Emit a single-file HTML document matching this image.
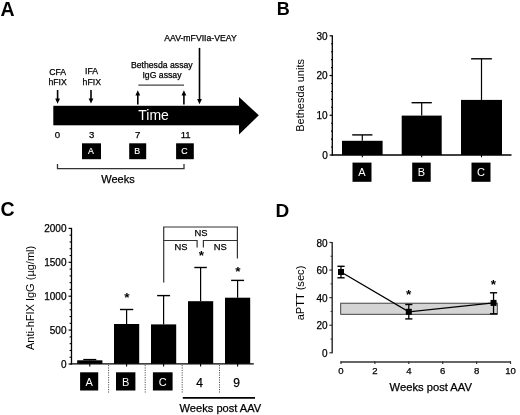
<!DOCTYPE html>
<html><head><meta charset="utf-8"><style>
html,body{margin:0;padding:0;background:#fff;width:520px;height:415px;overflow:hidden}
svg{display:block;will-change:transform}
text{font-family:"Liberation Sans",sans-serif}
</style></head><body>
<svg width="520" height="415" viewBox="0 0 520 415">
<rect width="520" height="415" fill="#fff"/>
<text x="0.6" y="15.6" font-size="19.5" text-anchor="start" font-weight="bold" fill="#000" >A</text>
<rect x="53.3" y="105.8" width="186.20" height="19.50" fill="#000" />
<polygon points="239,97 258.8,115.3 239,134.6" fill="#000"/>
<text x="138.3" y="119.5" font-size="14" text-anchor="start" font-weight="normal" fill="#fff" >Time</text>
<text x="57.6" y="74.5" font-size="8.7" text-anchor="middle" font-weight="normal" fill="#000" stroke="#000" stroke-width="0.25" >CFA</text>
<text x="57.6" y="84.6" font-size="8.7" text-anchor="middle" font-weight="normal" fill="#000" stroke="#000" stroke-width="0.25" >hFIX</text>
<text x="91.5" y="74.3" font-size="8.7" text-anchor="middle" font-weight="normal" fill="#000" stroke="#000" stroke-width="0.25" >IFA</text>
<text x="91.8" y="84.7" font-size="8.7" text-anchor="middle" font-weight="normal" fill="#000" stroke="#000" stroke-width="0.25" >hFIX</text>
<line x1="57.6" y1="90" x2="57.6" y2="100.8" stroke="#000" stroke-width="1.6"/><polygon points="55.2,98.6 60.0,98.6 57.6,103.8" fill="#000"/>
<line x1="91.0" y1="90" x2="91.0" y2="100.6" stroke="#000" stroke-width="1.6"/><polygon points="88.6,98.39999999999999 93.4,98.39999999999999 91.0,103.6" fill="#000"/>
<line x1="137.8" y1="93.2" x2="137.8" y2="104.5" stroke="#000" stroke-width="1.6"/><polygon points="135.4,95.4 140.20000000000002,95.4 137.8,90.2" fill="#000"/>
<line x1="183.9" y1="93.2" x2="183.9" y2="104.5" stroke="#000" stroke-width="1.6"/><polygon points="181.5,95.4 186.3,95.4 183.9,90.2" fill="#000"/>
<line x1="138.3" y1="85.2" x2="184" y2="85.2" stroke="#444" stroke-width="1.2"/>
<text x="161.8" y="67.5" font-size="8.7" text-anchor="middle" font-weight="normal" fill="#000" stroke="#000" stroke-width="0.25" >Bethesda assay</text>
<text x="162" y="77.6" font-size="8.7" text-anchor="middle" font-weight="normal" fill="#000" stroke="#000" stroke-width="0.25" >IgG assay</text>
<text x="200.5" y="41.2" font-size="8.7" text-anchor="middle" font-weight="normal" fill="#000" stroke="#000" stroke-width="0.25" >AAV-mFVIIa-VEAY</text>
<line x1="199.5" y1="47.9" x2="199.5" y2="101.2" stroke="#000" stroke-width="1.6"/><polygon points="197.1,99.0 201.9,99.0 199.5,104.2" fill="#000"/>
<text x="57.45" y="138.2" font-size="9.6" text-anchor="middle" font-weight="normal" fill="#000" stroke="#000" stroke-width="0.25" >0</text>
<text x="91.7" y="138.2" font-size="9.6" text-anchor="middle" font-weight="normal" fill="#000" stroke="#000" stroke-width="0.25" >3</text>
<text x="137.6" y="138.2" font-size="9.6" text-anchor="middle" font-weight="normal" fill="#000" stroke="#000" stroke-width="0.25" >7</text>
<text x="185.7" y="138.2" font-size="9.6" text-anchor="middle" font-weight="normal" fill="#000" stroke="#000" stroke-width="0.25" >11</text>
<rect x="82" y="143.3" width="19.00" height="15.90" fill="#000" />
<text x="91.0" y="154" font-size="8.8" text-anchor="middle" font-weight="normal" fill="#fff" stroke="#fff" stroke-width="0.15">A</text>
<rect x="129.2" y="143.3" width="17.00" height="15.90" fill="#000" />
<text x="137.2" y="154" font-size="8.8" text-anchor="middle" font-weight="normal" fill="#fff" stroke="#fff" stroke-width="0.15">B</text>
<rect x="176.1" y="143.3" width="17.70" height="15.90" fill="#000" />
<text x="184.45" y="154" font-size="8.8" text-anchor="middle" font-weight="normal" fill="#fff" stroke="#fff" stroke-width="0.15">C</text>
<path d="M57.5,164 V168.7 H184 V164" fill="none" stroke="#333" stroke-width="1.3"/>
<text x="101.3" y="182.7" font-size="11" text-anchor="start" font-weight="normal" fill="#000" stroke="#000" stroke-width="0.25" >Weeks</text>
<text x="276.7" y="15.4" font-size="18" text-anchor="start" font-weight="bold" fill="#000" >B</text>
<line x1="332.3" y1="35.31" x2="332.3" y2="155.5" stroke="#000" stroke-width="1.3"/>
<line x1="329.6" y1="155.0" x2="332.3" y2="155.0" stroke="#000" stroke-width="1.2"/>
<text x="327.7" y="158.7" font-size="10" text-anchor="end" font-weight="normal" fill="#000" stroke="#000" stroke-width="0.25" >0</text>
<line x1="331.0" y1="147.054" x2="332.3" y2="147.054" stroke="#000" stroke-width="1.1"/>
<line x1="331.0" y1="139.108" x2="332.3" y2="139.108" stroke="#000" stroke-width="1.1"/>
<line x1="331.0" y1="131.162" x2="332.3" y2="131.162" stroke="#000" stroke-width="1.1"/>
<line x1="331.0" y1="123.21600000000001" x2="332.3" y2="123.21600000000001" stroke="#000" stroke-width="1.1"/>
<line x1="329.6" y1="115.27000000000001" x2="332.3" y2="115.27000000000001" stroke="#000" stroke-width="1.2"/>
<text x="327.7" y="118.97000000000001" font-size="10" text-anchor="end" font-weight="normal" fill="#000" stroke="#000" stroke-width="0.25" >10</text>
<line x1="331.0" y1="107.324" x2="332.3" y2="107.324" stroke="#000" stroke-width="1.1"/>
<line x1="331.0" y1="99.378" x2="332.3" y2="99.378" stroke="#000" stroke-width="1.1"/>
<line x1="331.0" y1="91.432" x2="332.3" y2="91.432" stroke="#000" stroke-width="1.1"/>
<line x1="331.0" y1="83.486" x2="332.3" y2="83.486" stroke="#000" stroke-width="1.1"/>
<line x1="329.6" y1="75.54" x2="332.3" y2="75.54" stroke="#000" stroke-width="1.2"/>
<text x="327.7" y="79.24000000000001" font-size="10" text-anchor="end" font-weight="normal" fill="#000" stroke="#000" stroke-width="0.25" >20</text>
<line x1="331.0" y1="67.59400000000001" x2="332.3" y2="67.59400000000001" stroke="#000" stroke-width="1.1"/>
<line x1="331.0" y1="59.647999999999996" x2="332.3" y2="59.647999999999996" stroke="#000" stroke-width="1.1"/>
<line x1="331.0" y1="51.702" x2="332.3" y2="51.702" stroke="#000" stroke-width="1.1"/>
<line x1="331.0" y1="43.756" x2="332.3" y2="43.756" stroke="#000" stroke-width="1.1"/>
<line x1="329.6" y1="35.81" x2="332.3" y2="35.81" stroke="#000" stroke-width="1.2"/>
<text x="327.7" y="39.510000000000005" font-size="10" text-anchor="end" font-weight="normal" fill="#000" stroke="#000" stroke-width="0.25" >30</text>
<line x1="331.6" y1="155" x2="511.5" y2="155" stroke="#000" stroke-width="1.3"/>
<rect x="342" y="140.8" width="40.60" height="14.20" fill="#000" />
<line x1="362.3" y1="134.9" x2="362.3" y2="140.8" stroke="#000" stroke-width="1.2"/>
<line x1="352.2" y1="134.9" x2="372.40000000000003" y2="134.9" stroke="#000" stroke-width="1.4"/>
<line x1="362.3" y1="155" x2="362.3" y2="157.3" stroke="#000" stroke-width="1.1"/>
<rect x="401.7" y="115.6" width="40.00" height="39.40" fill="#000" />
<line x1="421.7" y1="102.7" x2="421.7" y2="115.6" stroke="#000" stroke-width="1.2"/>
<line x1="411.59999999999997" y1="102.7" x2="431.8" y2="102.7" stroke="#000" stroke-width="1.4"/>
<line x1="421.7" y1="155" x2="421.7" y2="157.3" stroke="#000" stroke-width="1.1"/>
<rect x="461" y="99.9" width="41.00" height="55.10" fill="#000" />
<line x1="481.5" y1="58.8" x2="481.5" y2="99.9" stroke="#000" stroke-width="1.2"/>
<line x1="471.1" y1="58.8" x2="491.9" y2="58.8" stroke="#000" stroke-width="1.4"/>
<line x1="481.5" y1="155" x2="481.5" y2="157.3" stroke="#000" stroke-width="1.1"/>
<rect x="352.5" y="162.6" width="19.00" height="19.20" fill="#000" />
<text x="362.0" y="176.2" font-size="11" text-anchor="middle" font-weight="normal" fill="#fff" >A</text>
<rect x="412.2" y="162.6" width="18.50" height="19.20" fill="#000" />
<text x="421.45" y="176.2" font-size="11" text-anchor="middle" font-weight="normal" fill="#fff" >B</text>
<rect x="471.5" y="162.6" width="19.00" height="19.20" fill="#000" />
<text x="481.0" y="176.2" font-size="11" text-anchor="middle" font-weight="normal" fill="#fff" >C</text>
<text x="0" y="0" font-size="11" text-anchor="middle" font-weight="normal" fill="#000" transform="translate(304.0,95.4) rotate(-90)">Bethesda units</text>
<text x="0.4" y="215.6" font-size="19.5" text-anchor="start" font-weight="bold" fill="#000" >C</text>
<line x1="71.5" y1="227.9" x2="71.5" y2="364.5" stroke="#000" stroke-width="1.3"/>
<line x1="68.6" y1="364.0" x2="71.5" y2="364.0" stroke="#000" stroke-width="1.2"/>
<text x="66.5" y="367.7" font-size="10" text-anchor="end" font-weight="normal" fill="#000" stroke="#000" stroke-width="0.25" >0</text>
<line x1="69.6" y1="357.22" x2="71.5" y2="357.22" stroke="#000" stroke-width="1.1"/>
<line x1="69.6" y1="350.44" x2="71.5" y2="350.44" stroke="#000" stroke-width="1.1"/>
<line x1="69.6" y1="343.66" x2="71.5" y2="343.66" stroke="#000" stroke-width="1.1"/>
<line x1="69.6" y1="336.88" x2="71.5" y2="336.88" stroke="#000" stroke-width="1.1"/>
<line x1="68.6" y1="330.1" x2="71.5" y2="330.1" stroke="#000" stroke-width="1.2"/>
<text x="66.5" y="333.8" font-size="10" text-anchor="end" font-weight="normal" fill="#000" stroke="#000" stroke-width="0.25" >500</text>
<line x1="69.6" y1="323.32" x2="71.5" y2="323.32" stroke="#000" stroke-width="1.1"/>
<line x1="69.6" y1="316.54" x2="71.5" y2="316.54" stroke="#000" stroke-width="1.1"/>
<line x1="69.6" y1="309.76" x2="71.5" y2="309.76" stroke="#000" stroke-width="1.1"/>
<line x1="69.6" y1="302.98" x2="71.5" y2="302.98" stroke="#000" stroke-width="1.1"/>
<line x1="68.6" y1="296.2" x2="71.5" y2="296.2" stroke="#000" stroke-width="1.2"/>
<text x="66.5" y="299.9" font-size="10" text-anchor="end" font-weight="normal" fill="#000" stroke="#000" stroke-width="0.25" >1000</text>
<line x1="69.6" y1="289.42" x2="71.5" y2="289.42" stroke="#000" stroke-width="1.1"/>
<line x1="69.6" y1="282.64" x2="71.5" y2="282.64" stroke="#000" stroke-width="1.1"/>
<line x1="69.6" y1="275.86" x2="71.5" y2="275.86" stroke="#000" stroke-width="1.1"/>
<line x1="69.6" y1="269.08" x2="71.5" y2="269.08" stroke="#000" stroke-width="1.1"/>
<line x1="68.6" y1="262.3" x2="71.5" y2="262.3" stroke="#000" stroke-width="1.2"/>
<text x="66.5" y="266.0" font-size="10" text-anchor="end" font-weight="normal" fill="#000" stroke="#000" stroke-width="0.25" >1500</text>
<line x1="69.6" y1="255.51999999999998" x2="71.5" y2="255.51999999999998" stroke="#000" stroke-width="1.1"/>
<line x1="69.6" y1="248.74" x2="71.5" y2="248.74" stroke="#000" stroke-width="1.1"/>
<line x1="69.6" y1="241.96" x2="71.5" y2="241.96" stroke="#000" stroke-width="1.1"/>
<line x1="69.6" y1="235.18" x2="71.5" y2="235.18" stroke="#000" stroke-width="1.1"/>
<line x1="68.6" y1="228.4" x2="71.5" y2="228.4" stroke="#000" stroke-width="1.2"/>
<text x="66.5" y="232.1" font-size="10" text-anchor="end" font-weight="normal" fill="#000" stroke="#000" stroke-width="0.25" >2000</text>
<line x1="70.5" y1="363.8" x2="253.8" y2="363.8" stroke="#000" stroke-width="1.3"/>
<rect x="77.2" y="360.3" width="25.20" height="3.50" fill="#000" />
<line x1="89.8" y1="359.6" x2="89.8" y2="360.3" stroke="#000" stroke-width="1.2"/>
<line x1="83.3" y1="359.6" x2="96.3" y2="359.6" stroke="#000" stroke-width="1.4"/>
<line x1="89.8" y1="363.8" x2="89.8" y2="366.5" stroke="#000" stroke-width="1.1"/>
<rect x="114.0" y="324" width="25.20" height="39.80" fill="#000" />
<line x1="126.6" y1="309.5" x2="126.6" y2="324" stroke="#000" stroke-width="1.2"/>
<line x1="119.94999999999999" y1="309.5" x2="133.25" y2="309.5" stroke="#000" stroke-width="1.4"/>
<line x1="126.6" y1="363.8" x2="126.6" y2="366.5" stroke="#000" stroke-width="1.1"/>
<rect x="151.0" y="324.4" width="25.20" height="39.40" fill="#000" />
<line x1="163.6" y1="295.6" x2="163.6" y2="324.4" stroke="#000" stroke-width="1.2"/>
<line x1="157.15" y1="295.6" x2="170.04999999999998" y2="295.6" stroke="#000" stroke-width="1.4"/>
<line x1="163.6" y1="363.8" x2="163.6" y2="366.5" stroke="#000" stroke-width="1.1"/>
<rect x="188.0" y="301.2" width="25.20" height="62.60" fill="#000" />
<line x1="200.6" y1="267.5" x2="200.6" y2="301.2" stroke="#000" stroke-width="1.2"/>
<line x1="194.35" y1="267.5" x2="206.85" y2="267.5" stroke="#000" stroke-width="1.4"/>
<line x1="200.6" y1="363.8" x2="200.6" y2="366.5" stroke="#000" stroke-width="1.1"/>
<rect x="225.0" y="297.7" width="25.20" height="66.10" fill="#000" />
<line x1="237.6" y1="280.4" x2="237.6" y2="297.7" stroke="#000" stroke-width="1.2"/>
<line x1="231.1" y1="280.4" x2="244.1" y2="280.4" stroke="#000" stroke-width="1.4"/>
<line x1="237.6" y1="363.8" x2="237.6" y2="366.5" stroke="#000" stroke-width="1.1"/>
<text x="126.9" y="302.28499999999997" font-size="13.5" text-anchor="middle" font-weight="bold" fill="#000" >*</text>
<text x="201.3" y="260.08500000000004" font-size="13.5" text-anchor="middle" font-weight="bold" fill="#000" >*</text>
<text x="238" y="275.585" font-size="13.5" text-anchor="middle" font-weight="bold" fill="#000" >*</text>
<path d="M163.7,282.5 V227 H237.4 V258.6" fill="none" stroke="#333" stroke-width="1.2"/>
<path d="M163.7,240.5 H197.1 V247.5" fill="none" stroke="#333" stroke-width="1.2"/>
<path d="M203.4,247.5 V240.5 H237.4" fill="none" stroke="#333" stroke-width="1.2"/>
<text x="201" y="235.8" font-size="9.4" text-anchor="middle" font-weight="normal" fill="#000" stroke="#000" stroke-width="0.25" >NS</text>
<text x="180.9" y="250.2" font-size="9.4" text-anchor="middle" font-weight="normal" fill="#000" stroke="#000" stroke-width="0.25" >NS</text>
<text x="220.3" y="250.4" font-size="9.4" text-anchor="middle" font-weight="normal" fill="#000" stroke="#000" stroke-width="0.25" >NS</text>
<line x1="108.6" y1="365" x2="108.6" y2="393.5" stroke="#444" stroke-width="0.9" stroke-dasharray="1.2,1.2"/>
<line x1="145.2" y1="365" x2="145.2" y2="393.5" stroke="#444" stroke-width="0.9" stroke-dasharray="1.2,1.2"/>
<line x1="182.2" y1="365" x2="182.2" y2="393.5" stroke="#444" stroke-width="0.9" stroke-dasharray="1.2,1.2"/>
<line x1="219.5" y1="365" x2="219.5" y2="393.5" stroke="#444" stroke-width="0.9" stroke-dasharray="1.2,1.2"/>
<rect x="80.1" y="372.3" width="18.10" height="18.20" fill="#000" />
<text x="89.15" y="385.6" font-size="11" text-anchor="middle" font-weight="normal" fill="#fff" >A</text>
<rect x="116" y="372.3" width="19.40" height="18.20" fill="#000" />
<text x="125.7" y="385.6" font-size="11" text-anchor="middle" font-weight="normal" fill="#fff" >B</text>
<rect x="152.9" y="372.3" width="19.70" height="18.20" fill="#000" />
<text x="162.75" y="385.6" font-size="11" text-anchor="middle" font-weight="normal" fill="#fff" >C</text>
<text x="199.5" y="387.2" font-size="12" text-anchor="middle" font-weight="normal" fill="#000" stroke="#000" stroke-width="0.25" >4</text>
<text x="236.6" y="387.2" font-size="12" text-anchor="middle" font-weight="normal" fill="#000" stroke="#000" stroke-width="0.25" >9</text>
<line x1="182.8" y1="397.9" x2="255" y2="397.9" stroke="#000" stroke-width="1.8"/>
<text x="179.6" y="411.7" font-size="11.1" text-anchor="start" font-weight="normal" fill="#000" stroke="#000" stroke-width="0.25" >Weeks post AAV</text>
<text x="0" y="0" font-size="11" text-anchor="middle" font-weight="normal" fill="#000" transform="translate(33.6,297.9) rotate(-90)">Anti-hFIX IgG (µg/ml)</text>
<text x="275.5" y="216.7" font-size="19" text-anchor="start" font-weight="bold" fill="#000" >D</text>
<line x1="332.2" y1="241.98000000000002" x2="332.2" y2="353.3" stroke="#333" stroke-width="1.5"/>
<line x1="329.4" y1="352.8" x2="332.2" y2="352.8" stroke="#333" stroke-width="1.2"/>
<text x="327.5" y="357.0" font-size="10" text-anchor="end" font-weight="normal" fill="#000" stroke="#000" stroke-width="0.25" >0</text>
<line x1="330.6" y1="339.01" x2="332.2" y2="339.01" stroke="#333" stroke-width="1.1"/>
<line x1="329.4" y1="325.22" x2="332.2" y2="325.22" stroke="#333" stroke-width="1.2"/>
<text x="327.5" y="329.42" font-size="10" text-anchor="end" font-weight="normal" fill="#000" stroke="#000" stroke-width="0.25" >20</text>
<line x1="330.6" y1="311.43" x2="332.2" y2="311.43" stroke="#333" stroke-width="1.1"/>
<line x1="329.4" y1="297.64" x2="332.2" y2="297.64" stroke="#333" stroke-width="1.2"/>
<text x="327.5" y="301.84" font-size="10" text-anchor="end" font-weight="normal" fill="#000" stroke="#000" stroke-width="0.25" >40</text>
<line x1="330.6" y1="283.85" x2="332.2" y2="283.85" stroke="#333" stroke-width="1.1"/>
<line x1="329.4" y1="270.06" x2="332.2" y2="270.06" stroke="#333" stroke-width="1.2"/>
<text x="327.5" y="274.26" font-size="10" text-anchor="end" font-weight="normal" fill="#000" stroke="#000" stroke-width="0.25" >60</text>
<line x1="330.6" y1="256.27" x2="332.2" y2="256.27" stroke="#333" stroke-width="1.1"/>
<line x1="329.4" y1="242.48000000000002" x2="332.2" y2="242.48000000000002" stroke="#333" stroke-width="1.2"/>
<text x="327.5" y="246.68" font-size="10" text-anchor="end" font-weight="normal" fill="#000" stroke="#000" stroke-width="0.25" >80</text>
<line x1="340.5" y1="361.9" x2="511" y2="361.9" stroke="#333" stroke-width="1.5"/>
<line x1="341.0" y1="361.3" x2="341.0" y2="364" stroke="#333" stroke-width="1.2"/>
<text x="341.0" y="374.3" font-size="9.6" text-anchor="middle" font-weight="normal" fill="#000" stroke="#000" stroke-width="0.25" >0</text>
<line x1="374.9" y1="361.3" x2="374.9" y2="364" stroke="#333" stroke-width="1.2"/>
<text x="374.9" y="374.3" font-size="9.6" text-anchor="middle" font-weight="normal" fill="#000" stroke="#000" stroke-width="0.25" >2</text>
<line x1="408.8" y1="361.3" x2="408.8" y2="364" stroke="#333" stroke-width="1.2"/>
<text x="408.8" y="374.3" font-size="9.6" text-anchor="middle" font-weight="normal" fill="#000" stroke="#000" stroke-width="0.25" >4</text>
<line x1="442.7" y1="361.3" x2="442.7" y2="364" stroke="#333" stroke-width="1.2"/>
<text x="442.7" y="374.3" font-size="9.6" text-anchor="middle" font-weight="normal" fill="#000" stroke="#000" stroke-width="0.25" >6</text>
<line x1="476.6" y1="361.3" x2="476.6" y2="364" stroke="#333" stroke-width="1.2"/>
<text x="476.6" y="374.3" font-size="9.6" text-anchor="middle" font-weight="normal" fill="#000" stroke="#000" stroke-width="0.25" >8</text>
<line x1="510.5" y1="361.3" x2="510.5" y2="364" stroke="#333" stroke-width="1.2"/>
<text x="510.5" y="374.3" font-size="9.6" text-anchor="middle" font-weight="normal" fill="#000" stroke="#000" stroke-width="0.25" >10</text>
<text x="389.6" y="391.3" font-size="11.2" text-anchor="start" font-weight="normal" fill="#000" stroke="#000" stroke-width="0.25" >Weeks post AAV</text>
<text x="0" y="0" font-size="11.1" text-anchor="middle" font-weight="normal" fill="#000" transform="translate(303.8,293) rotate(-90)">aPTT (sec)</text>
<rect x="340.7" y="303.2" width="156.6" height="11.1" fill="#d4d4d4" stroke="#333" stroke-width="0.9"/>
<polyline points="341.0,272 408.8,311.8 493.54999999999995,302.9" fill="none" stroke="#000" stroke-width="1.3"/>
<line x1="341.0" y1="266.3" x2="341.0" y2="277.8" stroke="#000" stroke-width="1.3"/>
<line x1="337.4" y1="266.3" x2="344.6" y2="266.3" stroke="#000" stroke-width="1.4"/>
<line x1="337.4" y1="277.8" x2="344.6" y2="277.8" stroke="#000" stroke-width="1.4"/>
<rect x="338.0" y="269" width="6.00" height="6.00" fill="#000" />
<line x1="408.8" y1="304.5" x2="408.8" y2="318.9" stroke="#000" stroke-width="1.3"/>
<line x1="405.2" y1="304.5" x2="412.40000000000003" y2="304.5" stroke="#000" stroke-width="1.4"/>
<line x1="405.2" y1="318.9" x2="412.40000000000003" y2="318.9" stroke="#000" stroke-width="1.4"/>
<rect x="405.8" y="308.8" width="6.00" height="6.00" fill="#000" />
<line x1="493.54999999999995" y1="292.8" x2="493.54999999999995" y2="313.8" stroke="#000" stroke-width="1.3"/>
<line x1="489.94999999999993" y1="292.8" x2="497.15" y2="292.8" stroke="#000" stroke-width="1.4"/>
<line x1="489.94999999999993" y1="313.8" x2="497.15" y2="313.8" stroke="#000" stroke-width="1.4"/>
<rect x="490.54999999999995" y="299.9" width="6.00" height="6.00" fill="#000" />
<text x="408.7" y="298.585" font-size="13.5" text-anchor="middle" font-weight="bold" fill="#000" >*</text>
<text x="493.3" y="289.18499999999995" font-size="13.5" text-anchor="middle" font-weight="bold" fill="#000" >*</text>
</svg>
</body></html>
